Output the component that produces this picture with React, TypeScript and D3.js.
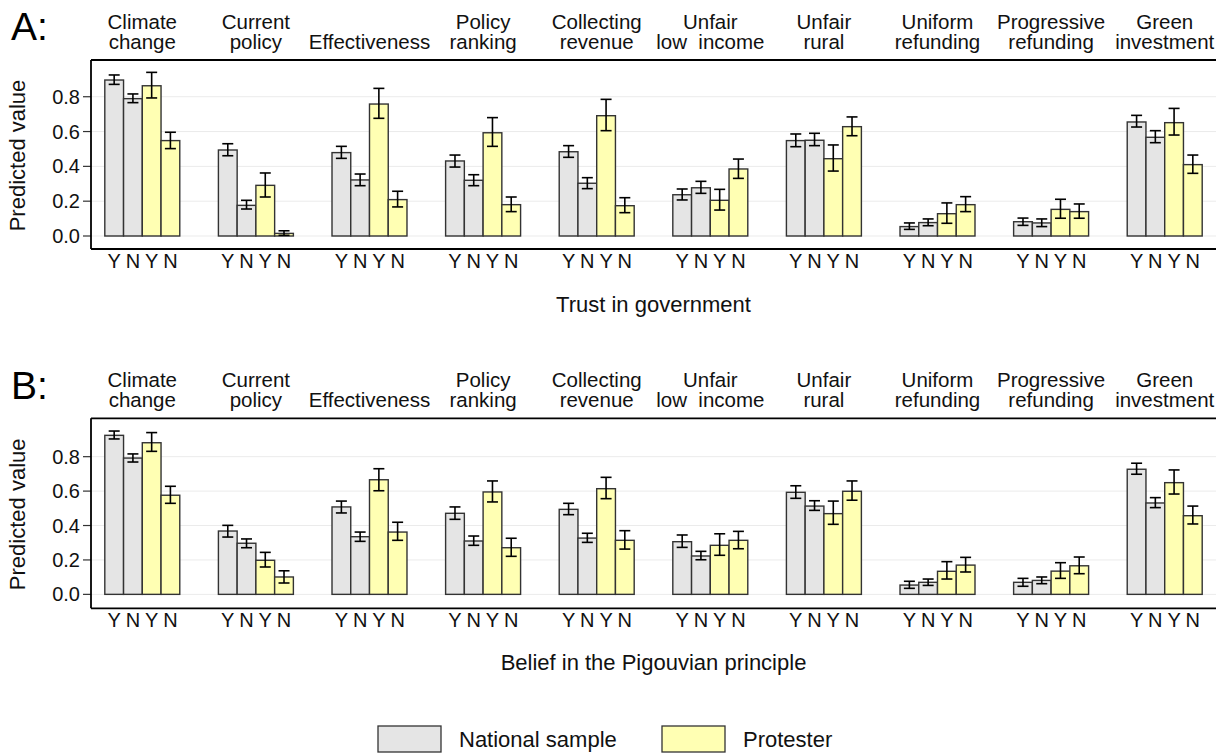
import React from 'react';
import * as d3 from 'd3';

// ---------- data ----------
const categories: string[][] = [
  ['Climate', 'change'],
  ['Current', 'policy'],
  ['Effectiveness'],
  ['Policy', 'ranking'],
  ['Collecting', 'revenue'],
  ['Unfair', 'low  income'],
  ['Unfair', 'rural'],
  ['Uniform', 'refunding'],
  ['Progressive', 'refunding'],
  ['Green', 'investment'],
];
const barLabels = ['Y', 'N', 'Y', 'N'];
const seriesNames = ['National sample', 'Protester'];
const yTicks = [0, 0.2, 0.4, 0.6, 0.8];

// [mean, lower, upper] per category
const trustNationalYes = [[0.896,0.871,0.925],[0.494,0.461,0.530],[0.479,0.446,0.515],[0.431,0.396,0.465],[0.484,0.452,0.519],[0.237,0.207,0.270],[0.548,0.513,0.586],[0.054,0.038,0.075],[0.082,0.061,0.103],[0.655,0.626,0.693]];
const trustNationalNo = [[0.789,0.766,0.816],[0.176,0.155,0.205],[0.322,0.289,0.356],[0.320,0.289,0.352],[0.303,0.272,0.335],[0.277,0.245,0.314],[0.550,0.519,0.590],[0.077,0.059,0.098],[0.075,0.054,0.098],[0.567,0.536,0.605]];
const trustProtesterYes = [[0.863,0.793,0.940],[0.291,0.224,0.362],[0.758,0.676,0.848],[0.593,0.515,0.680],[0.691,0.605,0.785],[0.205,0.149,0.268],[0.444,0.373,0.523],[0.128,0.073,0.190],[0.153,0.102,0.211],[0.651,0.580,0.733]];
const trustProtesterNo = [[0.548,0.502,0.596],[0.015,0.004,0.030],[0.209,0.167,0.257],[0.180,0.140,0.224],[0.174,0.134,0.220],[0.385,0.331,0.442],[0.628,0.576,0.684],[0.180,0.140,0.226],[0.140,0.102,0.184],[0.410,0.360,0.465]];

const pigouNationalYes = [[0.924,0.903,0.949],[0.368,0.333,0.401],[0.508,0.473,0.542],[0.471,0.436,0.508],[0.494,0.463,0.529],[0.306,0.273,0.345],[0.593,0.558,0.631],[0.054,0.035,0.076],[0.070,0.047,0.093],[0.727,0.698,0.762]];
const pigouNationalNo = [[0.792,0.769,0.816],[0.297,0.271,0.322],[0.335,0.308,0.362],[0.310,0.285,0.339],[0.327,0.302,0.355],[0.223,0.201,0.250],[0.513,0.488,0.544],[0.070,0.052,0.089],[0.081,0.062,0.101],[0.531,0.504,0.562]];
const pigouProtesterYes = [[0.881,0.831,0.940],[0.198,0.159,0.244],[0.666,0.602,0.730],[0.595,0.537,0.659],[0.614,0.556,0.680],[0.285,0.227,0.352],[0.469,0.407,0.542],[0.134,0.089,0.190],[0.135,0.093,0.184],[0.649,0.583,0.723]];
const pigouProtesterNo = [[0.576,0.529,0.628],[0.101,0.066,0.137],[0.362,0.314,0.419],[0.271,0.221,0.326],[0.314,0.263,0.370],[0.314,0.265,0.366],[0.599,0.547,0.659],[0.170,0.130,0.215],[0.166,0.120,0.217],[0.457,0.409,0.513]];

// ---------- styles ----------
const FONT = '"Liberation Sans", Arial, Helvetica, sans-serif';
const COLORS = ['#e5e5e5', '#ffffb3'];
const STROKE = '#333333';

const W = 1227;
const H = 753;
const LEFT = 91;
const RIGHT = 1216;

const panels = [
  {
    tag: 'A:', tagY: 39.5, top: 60, bottom: 249, domain: [-0.0747, 1.011],
    title: 'Trust in government', titleY: 312,
    series: [trustNationalYes, trustNationalNo, trustProtesterYes, trustProtesterNo],
  },
  {
    tag: 'B:', tagY: 398.5, top: 418.3, bottom: 608.3, domain: [-0.081, 1.023],
    title: 'Belief in the Pigouvian principle', titleY: 670,
    series: [pigouNationalYes, pigouNationalNo, pigouProtesterYes, pigouProtesterNo],
  },
];

const xOuter = d3.scaleBand<number>()
  .domain(d3.range(categories.length))
  .range([LEFT, RIGHT])
  .paddingInner(0.34)
  .paddingOuter(0.1215);
const xInner = d3.scaleBand<number>()
  .domain(d3.range(barLabels.length))
  .range([0, xOuter.bandwidth()])
  .padding(0);

function Panel({ p }: { p: typeof panels[number] }) {
  const y = d3.scaleLinear().domain(p.domain).range([p.bottom, p.top]);
  const y0 = y(0);
  const bw = xInner.bandwidth();
  return (
    <g>
      <text x={11} y={p.tagY} fontSize={39} fontFamily={FONT}>{p.tag}</text>
      {/* gridlines */}
      {yTicks.map((t) => (
        <line key={'g' + t} x1={LEFT} x2={RIGHT} y1={y(t)} y2={y(t)} stroke="#ebebeb" strokeWidth={1} />
      ))}
      {/* y ticks */}
      {yTicks.map((t) => (
        <g key={'t' + t}>
          <line x1={LEFT - 8} x2={LEFT} y1={y(t)} y2={y(t)} stroke={STROKE} strokeWidth={1.2} />
          <text x={LEFT - 11} y={y(t)} dy="0.35em" textAnchor="end" fontSize={20} fontFamily={FONT} fill="#111">
            {d3.format('.1f')(t)}
          </text>
        </g>
      ))}
      <text
        transform={`translate(25,${(p.top + p.bottom) / 2 + 1}) rotate(-90)`}
        textAnchor="middle" fontSize={22} fontFamily={FONT} fill="#111"
      >Predicted value</text>
      {/* strip labels */}
      {categories.map((c, i) => {
        const cx = xOuter(i)! + xOuter.bandwidth() / 2;
        return (
          <text key={'s' + i} textAnchor="middle" fontSize={20.5} fontFamily={FONT} fill="#111" style={{ whiteSpace: 'pre' }}>
            {c.map((line, j) => (
              <tspan key={j} x={cx} y={p.top - 11.5 - (c.length - 1 - j) * 19.5}>{line}</tspan>
            ))}
          </text>
        );
      })}
      {/* bars */}
      {categories.map((_, i) => (
        <g key={'b' + i} transform={`translate(${xOuter(i)},0)`}>
          {p.series.map((s, k) => {
            const [m, lo, hi] = s[i];
            const bx = xInner(k)!;
            const cx = bx + bw / 2;
            return (
              <g key={k}>
                <rect x={bx} y={y(m)} width={bw} height={y0 - y(m)}
                  fill={COLORS[k < 2 ? 0 : 1]} stroke={STROKE} strokeWidth={1.4} />
                <line x1={cx} x2={cx} y1={y(lo)} y2={y(hi)} stroke="#000" strokeWidth={1.6} />
                <line x1={cx - 5.5} x2={cx + 5.5} y1={y(lo)} y2={y(lo)} stroke="#000" strokeWidth={1.6} />
                <line x1={cx - 5.5} x2={cx + 5.5} y1={y(hi)} y2={y(hi)} stroke="#000" strokeWidth={1.6} />
                <text x={cx} y={p.bottom + 19} textAnchor="middle" fontSize={20} fontFamily={FONT} fill="#111">
                  {barLabels[k]}
                </text>
              </g>
            );
          })}
        </g>
      ))}
      {/* frame */}
      <line x1={LEFT} x2={RIGHT} y1={p.top} y2={p.top} stroke="#000" strokeWidth={1.8} />
      <line x1={LEFT} x2={RIGHT} y1={p.bottom} y2={p.bottom} stroke="#000" strokeWidth={1.8} />
      <line x1={LEFT} x2={LEFT} y1={p.top} y2={p.bottom} stroke="#000" strokeWidth={1.8} />
      <text x={(LEFT + RIGHT) / 2} y={p.titleY} textAnchor="middle" fontSize={22} fontFamily={FONT} fill="#111">
        {p.title}
      </text>
    </g>
  );
}

export default function App() {
  const legendX = [378, 662];
  return (
    <svg width={W} height={H} style={{ position: 'absolute', left: 0, top: 0, background: '#fff' }}>
      <rect x={0} y={0} width={W} height={H} fill="#fff" />
      {panels.map((p, i) => <Panel key={i} p={p} />)}
      {seriesNames.map((n, i) => (
        <g key={n}>
          <rect x={legendX[i]} y={726} width={63} height={26} fill={COLORS[i]} stroke={STROKE} strokeWidth={1.3} />
          <text x={legendX[i] + 81} y={747} fontSize={22} fontFamily={FONT} fill="#111">{n}</text>
        </g>
      ))}
    </svg>
  );
}
